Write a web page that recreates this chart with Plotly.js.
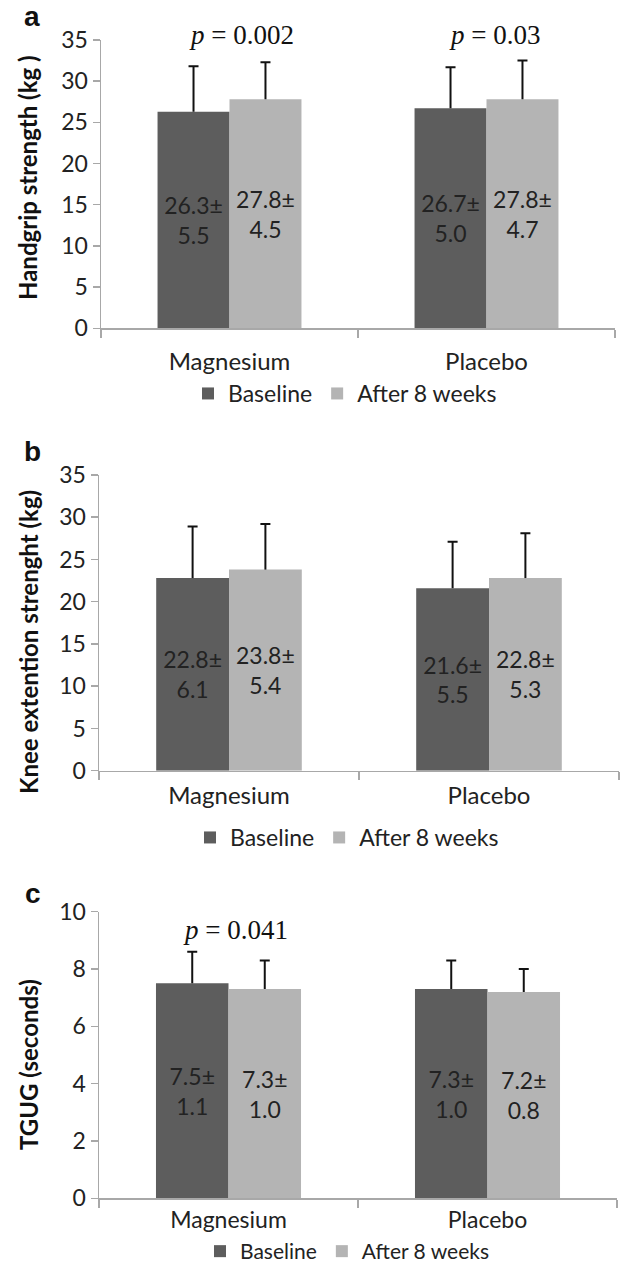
<!DOCTYPE html>
<html>
<head>
<meta charset="utf-8">
<script src="https://cdn.plot.ly/plotly-3.0.1.min.js"></script>
<style>html,body{margin:0;padding:0;background:#fff;}#chart{width:623px;height:1262px;}</style>
</head>
<body>
<div id="chart"></div>
<script>
// ---- data ----
const groups = ["Magnesium", "Placebo"];
const seriesNames = ["Baseline", "After 8 weeks"];

const handgripBaseline = [26.3, 26.7];
const handgripBaselineSD = [5.5, 5.0];
const handgripAfter = [27.8, 27.8];
const handgripAfterSD = [4.5, 4.7];

const kneeBaseline = [22.8, 21.6];
const kneeBaselineSD = [6.1, 5.5];
const kneeAfter = [23.8, 22.8];
const kneeAfterSD = [5.4, 5.3];

const tgugBaseline = [7.5, 7.3];
const tgugBaselineSD = [1.1, 1.0];
const tgugAfter = [7.3, 7.2];
const tgugAfterSD = [1.0, 0.8];

const pHandgrip = ["p = 0.002", "p = 0.03"];
const pTgug = ["p = 0.041"];

const panelLabels = ["a", "b", "c"];
const yTitles = ["Handgrip strength (kg )", "Knee extention strenght (kg)", "TGUG (seconds)"];

// ---- styling ----
const W = 623, H = 1262;
const FONT = "Lato, 'Open Sans', sans-serif";
const DARK = "#5d5d5d", LIGHT = "#b4b4b4", AXC = "#a8a8a8";
const px = v => v / W;
const py = v => 1 - v / H;

function lbl(vals, sds) {
  return vals.map((v, i) => v.toFixed(1) + "±<br>" + sds[i].toFixed(1));
}

// main bar: error line only (no caps)
function barTrace(name, vals, sds, color, xa, ya, leg, og) {
  return {
    type: "bar", name: name, x: groups, y: vals, offsetgroup: og,
    xaxis: xa, yaxis: ya, legend: leg, showlegend: true,
    marker: {color: color, line: {width: 0}},
    error_y: {type: "data", symmetric: false, array: sds, arrayminus: sds.map(() => 0),
              color: "#111", thickness: 2, width: 0},
    text: lbl(vals, sds), textposition: "inside", insidetextanchor: "middle",
    textangle: 0, constraintext: "none",
    insidetextfont: {family: FONT, size: 23, color: "#222"},
    hoverinfo: "skip"
  };
}
// transparent twin in the same slot: draws only the cap at the top of the error line
function capTrace(vals, sds, xa, ya, leg, og) {
  return {
    type: "bar", x: groups, y: vals, offsetgroup: og,
    xaxis: xa, yaxis: ya, legend: leg, showlegend: false,
    marker: {color: "rgba(0,0,0,0)", line: {width: 0}},
    error_y: {type: "data", symmetric: false, array: sds, arrayminus: sds.map(s => -s),
              color: "#111", thickness: 2, width: 5},
    hoverinfo: "skip"
  };
}

const data = [
  barTrace(seriesNames[0], handgripBaseline, handgripBaselineSD, DARK, "x", "y", "legend", "1"),
  barTrace(seriesNames[1], handgripAfter, handgripAfterSD, LIGHT, "x", "y", "legend", "2"),
  capTrace(handgripBaseline, handgripBaselineSD, "x", "y", "legend", "1"),
  capTrace(handgripAfter, handgripAfterSD, "x", "y", "legend", "2"),
  barTrace(seriesNames[0], kneeBaseline, kneeBaselineSD, DARK, "x2", "y2", "legend2", "1"),
  barTrace(seriesNames[1], kneeAfter, kneeAfterSD, LIGHT, "x2", "y2", "legend2", "2"),
  capTrace(kneeBaseline, kneeBaselineSD, "x2", "y2", "legend2", "1"),
  capTrace(kneeAfter, kneeAfterSD, "x2", "y2", "legend2", "2"),
  barTrace(seriesNames[0], tgugBaseline, tgugBaselineSD, DARK, "x3", "y3", "legend3", "1"),
  barTrace(seriesNames[1], tgugAfter, tgugAfterSD, LIGHT, "x3", "y3", "legend3", "2"),
  capTrace(tgugBaseline, tgugBaselineSD, "x3", "y3", "legend3", "1"),
  capTrace(tgugAfter, tgugAfterSD, "x3", "y3", "legend3", "2")
];

function xAxis(dom, anchor, standoff, fs) {
  return {domain: dom, anchor: anchor, type: "category", showline: true, linecolor: AXC, linewidth: 1.5,
          ticks: "outside", tickson: "boundaries", ticklen: 8, tickcolor: AXC, tickwidth: 1.5,
          ticklabelstandoff: standoff,
          showgrid: false, zeroline: false, fixedrange: true,
          tickfont: {family: FONT, size: fs, color: "#222"}};
}
function yAxis(dom, anchor, range, dtick) {
  return {domain: dom, anchor: anchor, range: range, dtick: dtick, showline: true, linecolor: AXC, linewidth: 1.5,
          ticks: "outside", ticklen: 7, tickcolor: AXC, tickwidth: 1.5, showgrid: false, zeroline: false,
          fixedrange: true, tickfont: {family: FONT, size: 23, color: "#222"}};
}
function legendAt(cx, top, fs) {
  return {orientation: "h", x: px(cx), y: py(top), xanchor: "center", yanchor: "top",
          font: {family: FONT, size: fs, color: "#222"}, bgcolor: "rgba(0,0,0,0)", traceorder: "normal"};
}

const annotations = [];
// panel letters
[[32, 17], [32, 451], [33, 893]].forEach((p, i) => annotations.push({
  xref: "paper", yref: "paper", x: px(p[0]), y: py(p[1]), xanchor: "center", yanchor: "middle",
  text: "<b>" + panelLabels[i] + "</b>", showarrow: false,
  font: {family: "'Liberation Sans', Arial, sans-serif", size: 28, color: "#111"}
}));
// y titles
[[28, 178], [28, 642], [28, 1065]].forEach((p, i) => annotations.push({
  xref: "paper", yref: "paper", x: px(p[0]), y: py(p[1]), xanchor: "center", yanchor: "middle",
  text: "<b>" + yTitles[i] + "</b>", textangle: -90, showarrow: false,
  font: {family: FONT, size: 24, color: "#111"}
}));
// p-values
function pText(s) { return s.replace(/^p/, "<i>p</i>"); }
const pShift = [12, 8];
pHandgrip.forEach((s, i) => annotations.push({
  xref: "x", yref: "paper", x: groups[i], y: py(35), xanchor: "center", yanchor: "middle",
  xshift: pShift[i], text: pText(s), showarrow: false,
  font: {family: "'Liberation Serif', 'Times New Roman', serif", size: 27, color: "#111"}
}));
pTgug.forEach((s, i) => annotations.push({
  xref: "x3", yref: "paper", x: groups[i], y: py(930), xanchor: "center", yanchor: "middle",
  xshift: 7, text: pText(s), showarrow: false,
  font: {family: "'Liberation Serif', 'Times New Roman', serif", size: 27, color: "#111"}
}));

const layout = {
  width: W, height: H, margin: {l: 0, r: 0, t: 0, b: 0, autoexpand: false},
  paper_bgcolor: "#fff", plot_bgcolor: "#fff",
  barmode: "group", bargap: 0.44, bargroupgap: 0,
  xaxis: xAxis([px(101), px(615)], "y", 11, 24),
  yaxis: yAxis([py(328.3), py(40)], "x", [0, 35], 5),
  xaxis2: xAxis([px(99), px(619)], "y2", 3, 24),
  yaxis2: yAxis([py(770.7), py(475)], "x2", [0, 35], 5),
  xaxis3: xAxis([px(99), px(617)], "y3", 1, 23),
  yaxis3: yAxis([py(1198.3), py(911.7)], "x3", [0, 10], 2),
  legend: legendAt(345, 372, 23),
  legend2: legendAt(347, 816, 23),
  legend3: legendAt(347, 1231, 21),
  annotations: annotations,
  showlegend: true
};

Plotly.newPlot("chart", data, layout, {displayModeBar: false, staticPlot: true});
</script>
</body>
</html>
